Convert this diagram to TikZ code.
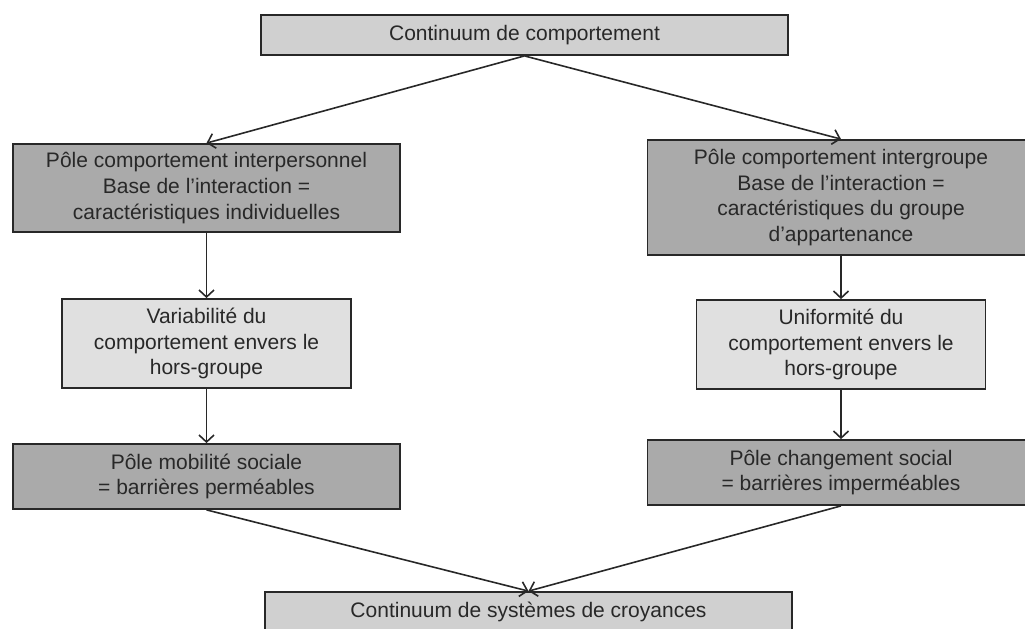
\documentclass[tikz,border=0pt]{standalone}
\usepackage{fontspec}
\setmainfont{Liberation Sans}
\usetikzlibrary{arrows.meta}
\definecolor{boxdark}{RGB}{170,170,170}
\definecolor{boxlight}{RGB}{208,208,208}
\definecolor{boxpale}{RGB}{224,224,224}
\definecolor{ink}{RGB}{40,40,40}
\begin{document}
\begin{tikzpicture}[x=0.5pt, y=-0.5pt]
        % Define styles
        \tikzset{
            box/.style={draw=ink, line width=0.9pt, text=ink, align=center, inner sep=0pt,
                font=\fontsize{10.5}{12.8}\selectfont},
            pole/.style={box, fill=boxdark, minimum width=193.5pt},
            continuum/.style={box, fill=boxlight, minimum width=263.5pt, minimum height=20pt},
            attitude/.style={box, fill=boxpale, minimum width=144.5pt, minimum height=44.5pt},
            link/.style={-{Straight Barb[length=3.5pt, width=7.5pt]}, draw=ink, line width=0.8pt}
        }
        \useasboundingbox (0,0) rectangle (1025,628);
        % Top of the chart
        \node[continuum] (behaviour) at (524.5,35) {Continuum de comportement};
        % Interpersonal side
        \node[pole, minimum height=44pt] (interpersonal) at (206.5,188)
            {Pôle comportement interpersonnel\\Base de l’interaction =\\caractéristiques individuelles};
        \node[attitude] (variability) at (206.5,343.5)
            {Variabilité du\\comportement envers le\\hors-groupe};
        \node[pole, minimum height=32.5pt] (mobility) at (206.5,476.5)
            {Pôle mobilité sociale\\= barrières perméables};
        % Intergroup side
        \node[pole, minimum height=57.5pt] (intergroup) at (841,197.5)
            {Pôle comportement intergroupe\\Base de l’interaction =\\caractéristiques du groupe\\d’appartenance};
        \node[attitude] (uniformity) at (841,344.5)
            {Uniformité du\\comportement envers le\\hors-groupe};
        \node[pole, minimum height=32.5pt] (change) at (841,472.5)
            {Pôle changement social\\= barrières imperméables};
        % Bottom of the chart
        \node[continuum] (beliefs) at (528.5,612) {Continuum de systèmes de croyances};
        % Connectors
        \draw[link] (behaviour.south) -- (interpersonal.north);
        \draw[link] (behaviour.south) -- (intergroup.north);
        \draw[link] (interpersonal) -- (variability);
        \draw[link] (variability) -- (mobility);
        \draw[link] (intergroup) -- (uniformity);
        \draw[link] (uniformity) -- (change);
        \draw[link] (mobility.south) -- (beliefs.north);
        \draw[link] (change.south) -- (beliefs.north);
    \end{tikzpicture}
\end{document}
